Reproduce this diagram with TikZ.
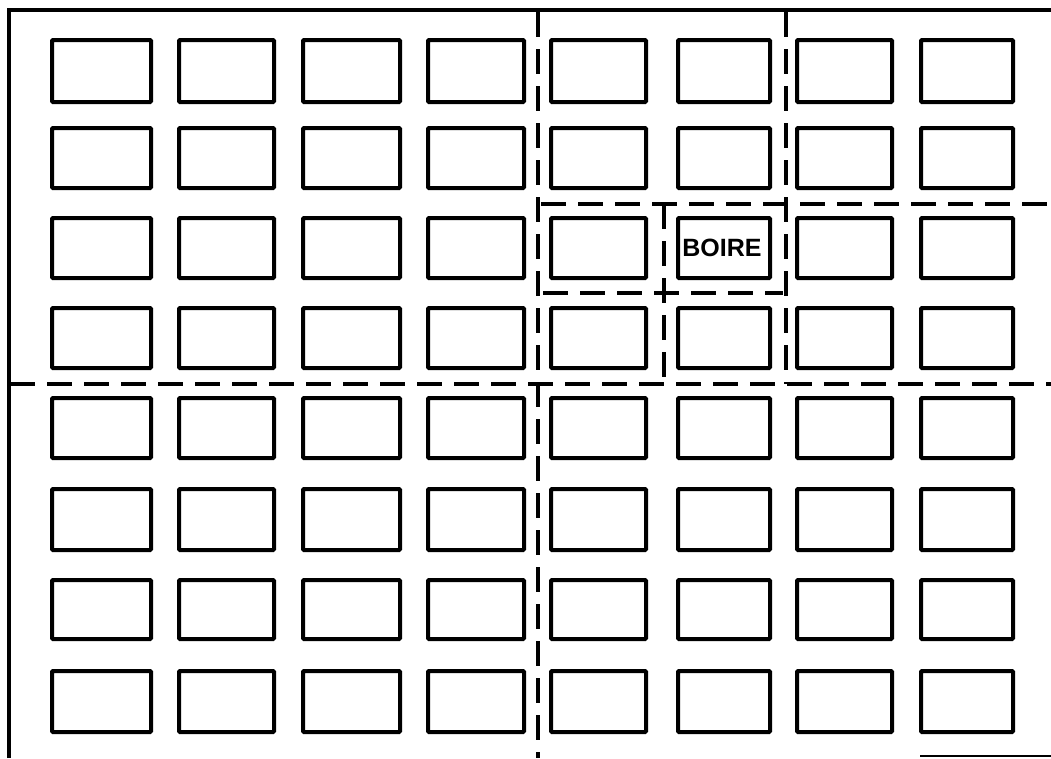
\documentclass[tikz,border=0pt]{standalone}
\usepackage{fontspec}
\newfontfamily\labelfont{Liberation Sans}
\begin{document}
\begin{tikzpicture}[x=1pt,y=-1pt,
  cell/.style={draw,line width=4pt,rounded corners=1pt,inner sep=0pt,
    font=\labelfont\bfseries\fontsize{25}{25}\selectfont},
  dline/.style={line width=3.2pt,dash pattern=on 25pt off 12pt},
  frame/.style={line width=3.6pt}]
\useasboundingbox (0,0) rectangle (1051,758);
% frame
\draw[frame] (9,758) -- (9,10) -- (1051,10);
\draw[line width=1.6pt] (920,756) -- (1051,756);
% grid of boxes
\foreach \l/\r [count=\c] in {52/151,179/274,303/400,428/524,551/646,678/770,797/892,921/1013}{
  \foreach \t/\b [count=\rr] in {40/102,128/188,218/278,308/368,398/458,489/550,580/639,671/732}{
    \node[cell,minimum width={(\r-\l)*1pt},minimum height={(\b-\t)*1pt}]
      (b\rr-\c) at ({(\l+\r)/2},{(\t+\b)/2}) {\ifnum\c\rr=63 \hspace*{-4pt}BOIRE\fi};
  }
}
% dashed division lines
\draw[dline] (538,12) -- (538,758);
\draw[dline] (786,12) -- (786,384);
\draw[dline] (10,384) -- (1051,384);
\draw[dline] (541,204) -- (1051,204);
\draw[dline] (543,293) -- (783,293);
\draw[dline] (664,204) -- (664,384);
\end{tikzpicture}
\end{document}
